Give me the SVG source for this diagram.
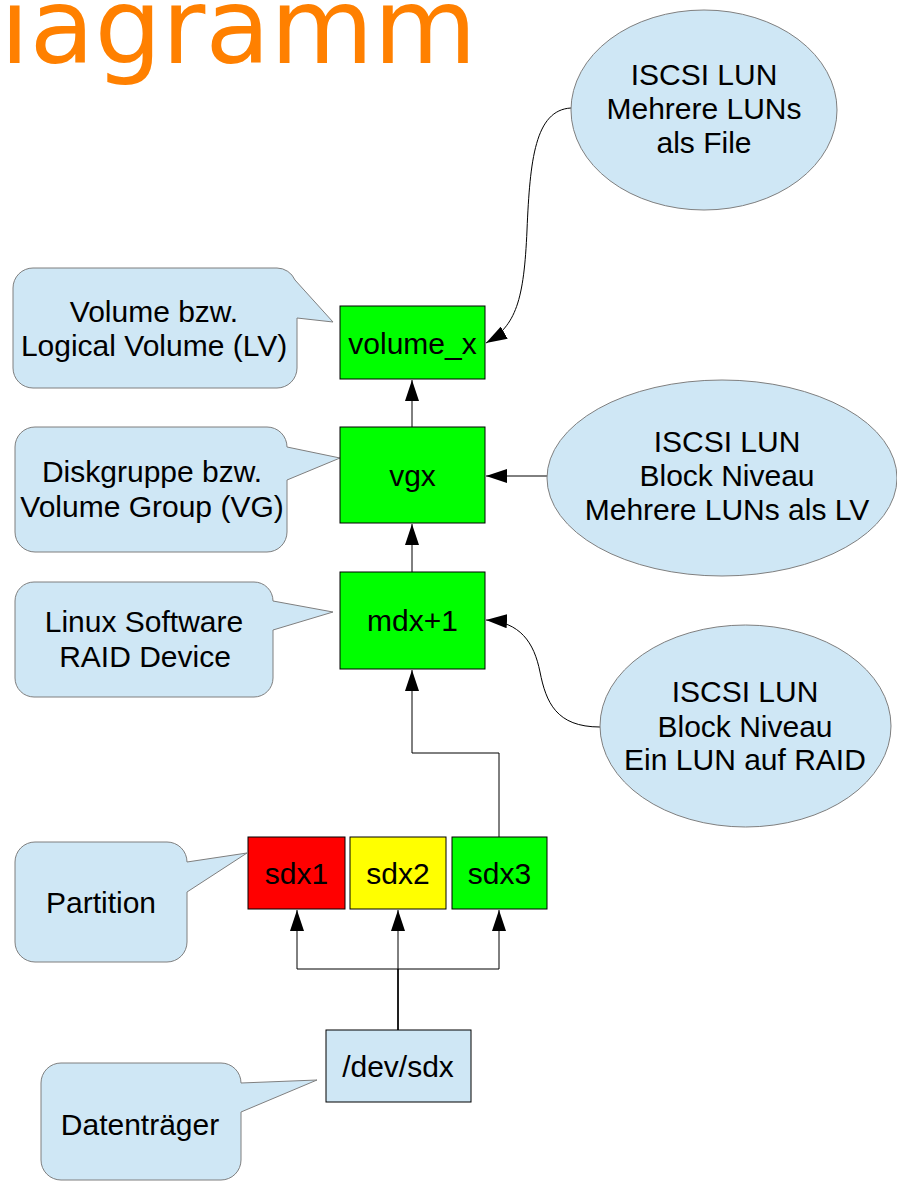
<svg xmlns="http://www.w3.org/2000/svg" width="897" height="1182" viewBox="0 0 897 1182">
<defs>
<marker id="arr" markerUnits="userSpaceOnUse" markerWidth="22" markerHeight="14" refX="21" refY="7" orient="auto">
<path d="M0,0 L21,7 L0,14 Z" fill="#000"/>
</marker>
<style>
.t{font-family:"Liberation Sans",Arial,sans-serif;font-size:30px;fill:#000;text-anchor:middle}
.call{fill:#cfe7f5;stroke:#7f7f7f;stroke-width:1}
.ell{fill:#cfe7f5;stroke:#7f7f7f;stroke-width:1}
.box{stroke:#000;stroke-width:1}
.g{fill:#00ff00}
.c{fill:none;stroke:#000;stroke-width:1;marker-end:url(#arr)}
.title{font-family:"DejaVu Sans",sans-serif;font-size:106px;fill:#ff8000}
</style>
</defs>
<rect width="897" height="1182" fill="#fff"/>
<text class="title" x="0" y="63">iagramm</text>

<g id="connectors">
<path class="c" d="M412,427 V380"/>
<path class="c" d="M412,572 V524"/>
<path class="c" d="M499,837 V753 H412 V670"/>
<path class="c" d="M398,1030 V969 H297 V910"/>
<path class="c" d="M398,1030 V910"/>
<path class="c" d="M398,1030 V969 H499 V910"/>
<path class="c" d="M547,476 H486"/>
<path class="c" d="M571,108 C535,110 530,160 527,230 C524,300 516,326 486,343"/>
<path class="c" d="M600,727 C556,727 546,702 540,672 C534,642 520,622 486,620"/>
</g>

<g id="callout-lv">
<path class="call" d="M33,268 H277 A20,20 0 0 1 295,280 L333,322 L297,318 V368 A20,20 0 0 1 277,388 H33 A20,20 0 0 1 13,368 V288 A20,20 0 0 1 33,268 Z"/>
<text class="t" x="154" y="322">Volume bzw.</text>
<text class="t" x="154" y="356">Logical Volume (LV)</text>
</g>
<g id="callout-vg">
<path class="call" d="M35,427 H267 A20,20 0 0 1 287,447 L340,458 L287,480 V532 A20,20 0 0 1 267,552 H35 A20,20 0 0 1 15,532 V447 A20,20 0 0 1 35,427 Z"/>
<text class="t" x="152" y="482">Diskgruppe bzw.</text>
<text class="t" x="152" y="517">Volume Group (VG)</text>
</g>
<g id="callout-raid">
<path class="call" d="M34,582 H254 A19,19 0 0 1 273,601 L333,612 L273,630 V678 A19,19 0 0 1 254,697 H34 A19,19 0 0 1 15,678 V601 A19,19 0 0 1 34,582 Z"/>
<text class="t" x="144" y="632">Linux Software</text>
<text class="t" x="145" y="667">RAID Device</text>
</g>
<g id="callout-partition">
<path class="call" d="M35,842 H167 A20,20 0 0 1 187,862 L247,853 L187,892 V942 A20,20 0 0 1 167,962 H35 A20,20 0 0 1 15,942 V862 A20,20 0 0 1 35,842 Z"/>
<text class="t" x="101" y="913">Partition</text>
</g>
<g id="callout-disk">
<path class="call" d="M61,1063 H221 A20,20 0 0 1 241,1083 L317,1080 L241,1112 V1160 A20,20 0 0 1 221,1180 H61 A20,20 0 0 1 41,1160 V1083 A20,20 0 0 1 61,1063 Z"/>
<text class="t" x="140" y="1135">Datenträger</text>
</g>

<g id="iscsi-file">
<ellipse class="ell" cx="704" cy="110" rx="133" ry="100"/>
<text class="t" x="704" y="85">ISCSI LUN</text>
<text class="t" x="704" y="119">Mehrere LUNs</text>
<text class="t" x="704" y="153">als File</text>
</g>
<g id="iscsi-lv">
<ellipse class="ell" cx="722" cy="478" rx="175" ry="98"/>
<text class="t" x="727" y="452">ISCSI LUN</text>
<text class="t" x="727" y="486">Block Niveau</text>
<text class="t" x="727" y="520">Mehrere LUNs als LV</text>
</g>
<g id="iscsi-raid">
<ellipse class="ell" cx="745.5" cy="726" rx="145.5" ry="101"/>
<text class="t" x="745" y="702">ISCSI LUN</text>
<text class="t" x="745" y="737">Block Niveau</text>
<text class="t" x="745" y="770">Ein LUN auf RAID</text>
</g>

<g id="volume_x">
<rect class="box g" x="340" y="306" width="145" height="73"/>
<text class="t" x="412.5" y="354">volume_x</text>
</g>
<g id="vgx">
<rect class="box g" x="340" y="427" width="145" height="96"/>
<text class="t" x="412.5" y="486">vgx</text>
</g>
<g id="mdx1">
<rect class="box g" x="340" y="572" width="145" height="97"/>
<text class="t" x="412.5" y="631">mdx+1</text>
</g>
<g id="sdx1">
<rect class="box" x="248" y="837" width="97" height="72" fill="#ff0000"/>
<text class="t" x="296.5" y="884">sdx1</text>
</g>
<g id="sdx2">
<rect class="box" x="350" y="837" width="96" height="72" fill="#ffff00"/>
<text class="t" x="398" y="884">sdx2</text>
</g>
<g id="sdx3">
<rect class="box g" x="452" y="837" width="95" height="72"/>
<text class="t" x="499.5" y="884">sdx3</text>
</g>
<g id="devsdx">
<rect class="box" x="326" y="1030" width="145" height="72" fill="#cfe7f5"/>
<text class="t" x="398" y="1077">/dev/sdx</text>
</g>
</svg>
